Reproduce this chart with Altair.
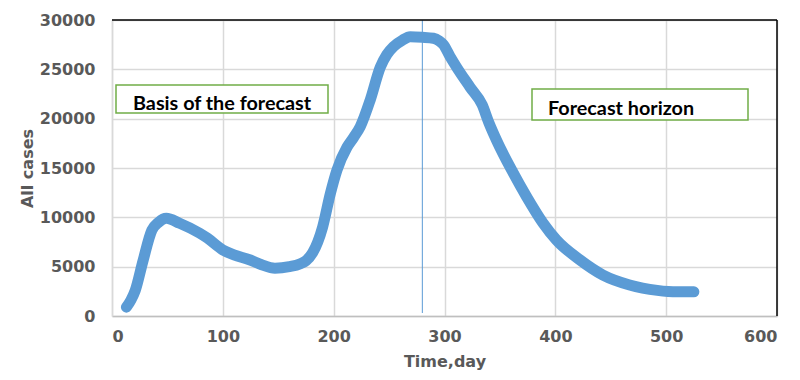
import altair as alt
import pandas as pd

days = [13, 17, 21, 28, 36, 42, 49, 61, 79, 86, 100, 110, 124, 135, 147, 160, 170,
        175, 181, 190, 197, 203, 212, 218, 224, 233, 242, 248, 254, 262, 269, 280,
        290, 295, 299, 305, 311, 323, 334, 340, 347, 362, 374, 389, 401, 422, 443,
        467, 492, 510, 525]
cases = [900, 1600, 2600, 5600, 8700, 9500, 9900, 9400, 8400, 7900, 6700, 6200,
         5700, 5200, 4850, 5000, 5300, 5600, 6400, 9000, 12400, 14800, 17100, 18100,
         19200, 21900, 25200, 26500, 27300, 27950, 28300, 28250, 28150, 27900, 27500,
         26300, 25200, 23200, 21400, 19600, 17800, 14500, 12100, 9400, 7700, 5700,
         4150, 3150, 2600, 2450, 2450]

x_ticks = [0, 100, 200, 300, 400, 500, 600]
y_ticks = [0, 5000, 10000, 15000, 20000, 25000, 30000]
split_day = 280
labels = ["Basis of the forecast", "Forecast horizon"]

df = pd.DataFrame({"day": days, "cases": cases})

W, H = 665, 296
xs = alt.Scale(domain=[0, 600], nice=False)
ys = alt.Scale(domain=[0, 30000], nice=False)

x_axis = alt.Axis(values=x_ticks, format="d", grid=True, gridColor="#D9D9D9", gridWidth=1.5,
                  ticks=False, domainColor="#BFBFBF", domainWidth=1.5,
                  labelFont="DejaVu Sans", labelFontWeight="bold", labelFontSize=16,
                  labelColor="#595959", labelPadding=12,
                  title="Time,day", titleFont="DejaVu Sans", titleFontWeight="bold",
                  titleFontSize=16, titleColor="#595959", titlePadding=9)
y_axis = alt.Axis(values=y_ticks, format="d", grid=True, gridColor="#D9D9D9", gridWidth=1.5,
                  ticks=False, domainColor="#D9D9D9", domainWidth=1.5,
                  labelFont="DejaVu Sans", labelFontWeight="bold", labelFontSize=16,
                  labelColor="#595959", labelPadding=17,
                  title="All cases", titleFont="DejaVu Sans", titleFontWeight="bold",
                  titleFontSize=16, titleColor="#595959",
                  titleX=-77, titleY=148, titleAngle=270, titleAlign="center",
                  titleBaseline="bottom")

line = alt.Chart(df).mark_line(color="#5B9BD5", strokeWidth=11, strokeCap="round",
                               strokeJoin="round", interpolate="monotone").encode(
    x=alt.X("day:Q", scale=xs, axis=x_axis),
    y=alt.Y("cases:Q", scale=ys, axis=y_axis),
)

top_border = alt.Chart().mark_rule(color="black", strokeWidth=1.5).encode(
    x=alt.value(0), x2=alt.value(W), y=alt.value(0))
right_border = alt.Chart().mark_rule(color="black", strokeWidth=1.5).encode(
    x=alt.value(W), y=alt.value(0), y2=alt.value(H))

split = alt.Chart().mark_rule(color="#5B9BD5", strokeWidth=1).encode(
    x=alt.datum(split_day, scale=xs), y=alt.value(0), y2=alt.value(293))

box1 = alt.Chart().mark_rect(fill="white", stroke="#70AD47", strokeWidth=1.5).encode(
    x=alt.value(4), x2=alt.value(216), y=alt.value(65), y2=alt.value(93))
box2 = alt.Chart().mark_rect(fill="white", stroke="#70AD47", strokeWidth=1.5).encode(
    x=alt.value(420), x2=alt.value(636), y=alt.value(69), y2=alt.value(100))

txt1 = alt.Chart().mark_text(text=labels[0], font="Lato", fontWeight="bold", fontSize=19.8,
                             align="left", baseline="alphabetic", color="black").encode(
    x=alt.value(21), y=alt.value(90))
txt2 = alt.Chart().mark_text(text=labels[1], font="Lato", fontWeight="bold", fontSize=19.8,
                             align="left", baseline="alphabetic", color="black").encode(
    x=alt.value(436), y=alt.value(95))

chart = alt.layer(box1, box2, txt1, txt2, split, line, top_border, right_border).properties(
    width=W, height=H,
    autosize=alt.AutoSizeParams(type="none"),
    padding={"left": 104, "top": 12, "right": 15, "bottom": 56},
).configure_view(stroke=None)

chart.save("out.html", embed_options={"renderer": "svg", "actions": False})
